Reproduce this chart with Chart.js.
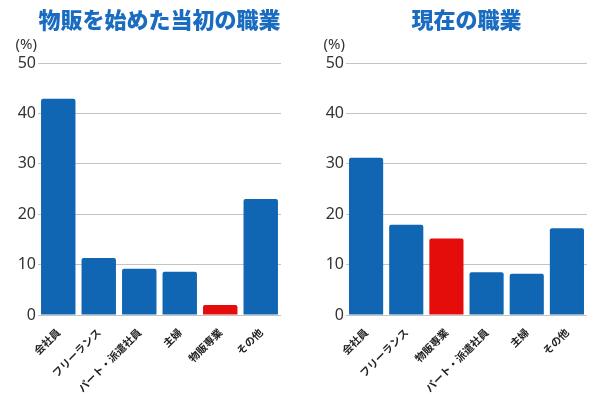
<!DOCTYPE html>
<html>
<head>
<meta charset="utf-8">
<script src="https://cdn.jsdelivr.net/npm/chart.js@4"></script>
<style>
body { margin: 0; background: #fff; width: 600px; height: 398px; position: relative; overflow: hidden; }
canvas { position: absolute; top: 0; }
</style>
</head>
<body>
<canvas id="chartAvant" width="300" height="398" style="left:0"></canvas>
<canvas id="chartNow" width="300" height="398" style="left:300px"></canvas>
<script>
// données
var titreAvant = "物販を始めた当初の職業";
var labelsAvant = ["会社員", "フリーランス", "パート・派遣社員", "主婦", "物販専業", "その他"];
var valeursAvant = [42.9, 11.3, 9.2, 8.6, 2.0, 23.0];

var titreNow = "現在の職業";
var labelsNow = ["会社員", "フリーランス", "物販専業", "パート・派遣社員", "主婦", "その他"];
var valeursNow = [31.2, 17.9, 15.2, 8.5, 8.2, 17.2];

var yMin = 0, yMax = 50, yStep = 10;
var unite = "(%)";
var special = "物販専業";

var bleu = "#1066b3";
var rouge = "#e50c0c";

var unitePlugin = {
  id: "unite",
  afterDraw: function (chart) {
    var ctx = chart.ctx;
    var area = chart.chartArea;
    ctx.save();
    ctx.fillStyle = "#333";
    ctx.font = "15px 'Noto Sans', sans-serif";
    ctx.textAlign = "right";
    ctx.textBaseline = "middle";
    ctx.fillText(unite, area.left - 1, area.top - 18);
    ctx.restore();
  }
};

function makeChart(id, titre, labels, valeurs, largeurAxe, padDroite)
{
  var couleurs = labels.map(function (l) { return l == special ? rouge : bleu; });
  return new Chart(document.getElementById(id),
  {
    type: "bar",
    data:
    {
      labels: labels,
      datasets:
      [{
        data: valeurs,
        backgroundColor: couleurs,
        borderRadius: 2,
        borderSkipped: "bottom",
        categoryPercentage: 1,
        barPercentage: 0.85
      }]
    },
    options:
    {
      responsive: false,
      animation: false,
      layout: { padding: { left: 0, right: padDroite, top: 0, bottom: 0 } },
      plugins:
      {
        legend: { display: false },
        tooltip: { enabled: false },
        title:
        {
          display: true,
          fullSize: false,
          text: titre,
          color: "#1a6cc0",
          font: { family: "'Noto Sans CJK JP', sans-serif", size: 22, weight: 900, lineHeight: 1.2 },
          padding: { top: 6, bottom: 30.6 }
        }
      },
      scales:
      {
        x:
        {
          grid: { display: false },
          border: { display: false },
          afterFit: function (s) { s.height = 83; },
          ticks:
          {
            autoSkip: false,
            minRotation: 45,
            maxRotation: 45,
            color: "#222",
            font: { family: "'Noto Sans CJK JP', sans-serif", size: 10.5, weight: "bold" }
          }
        },
        y:
        {
          min: yMin,
          max: yMax,
          afterFit: function (s) { s.width = largeurAxe; },
          grid: { color: "#c4c4c4", drawTicks: false },
          border: { display: false },
          ticks:
          {
            stepSize: yStep,
            padding: 2,
            color: "#333",
            font: { family: "'Noto Sans', sans-serif", size: 16 }
          }
        }
      }
    },
    plugins: [unitePlugin]
  });
}

makeChart("chartAvant", titreAvant, labelsAvant, valeursAvant, 38, 19);
makeChart("chartNow", titreNow, labelsNow, valeursNow, 46, 13);
</script>
</body>
</html>
